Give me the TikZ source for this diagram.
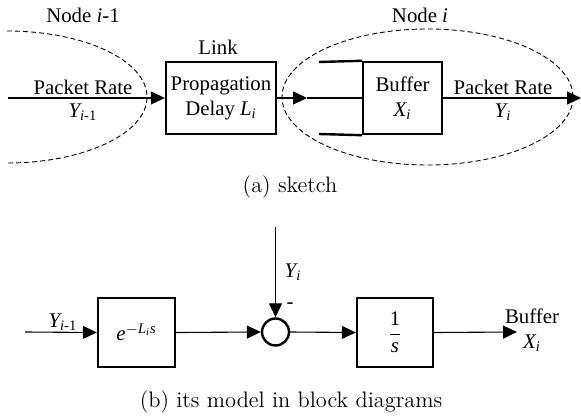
\documentclass[tikz,border=0pt]{standalone}
\usepackage{fontspec}
\usepackage{amsmath}
\usetikzlibrary{arrows.meta}
\newfontfamily\tms{Liberation Serif}
% italic letters in the diagram font
\newcommand{\iv}[1]{\text{\itshape #1}}

\begin{document}
\begin{tikzpicture}[>={Triangle[length=7pt,width=6.5pt]}, x=0.5pt, y=-0.5pt,
  every node/.style={font=\tms\fontsize{10.4}{12.5}\selectfont},
  blk/.style={draw, line width=1.2pt, inner sep=0pt, align=center},
  wire/.style={line width=0.55pt},
  zone/.style={dash pattern=on 2.5pt off 1.5pt, line width=0.45pt},
  capt/.style={font=\rmfamily\fontsize{11.2}{13}\selectfont}]
\useasboundingbox (0,0) rectangle (581,416);

% (a) the sketch
\draw[zone] (7,31) arc[start angle=90, end angle=-90, x radius=70pt, y radius=33pt];
\draw[zone] (427.5,97) ellipse[x radius=72.75pt, y radius=34pt];
\node (nodeA) at (83,15) {Node \textit{i}-1};
\node (nodeB) at (420,15) {Node \textit{i}};

\node[blk, minimum width=55pt, minimum height=36pt] (prop) at (221,98) {Propagation\\Delay $\iv{L}_{\iv{i}}$};
\node (link) at (218,47) {Link};
\node[blk, minimum width=39.5pt, minimum height=36pt] (buf) at (402.5,98) {Buffer\\$\iv{X}_{\iv{i}}$};
\coordinate (bt) at (319,62);
\coordinate (bb) at (319,134);
\draw[blk] (bt) -- (buf.north west);
\draw[blk] (bb) -- (buf.south west);

\coordinate (in1) at (8,98);
\coordinate (mid1) at (307,98);
\coordinate (out1) at (581,98);
\draw[wire,->] (in1) -- (prop.west);
\draw[wire,->] (prop.east) -- (mid1);
\draw[wire] (mid1) -- (buf.west);
\draw[wire,->] (buf.east) -- (out1);

\node (rateA) at (83,87) {Packet Rate};
\node (yA) at (83,112) {$\iv{Y}_{\iv{i}\text{-1}}$};
\node (rateB) at (503,87) {Packet Rate};
\node (yB) at (503,112) {$\iv{Y}_{\iv{i}}$};

\node[capt] (capA) at (290,187) {(a) sketch};

% (b) block diagram
\node[blk, minimum width=38.5pt, minimum height=34.5pt] (delay) at (136.5,332.5) {$\iv{e}^{-\iv{L}_{\iv{i}}\iv{s}}$};
\node[draw, line width=1.2pt, circle, minimum size=13.5pt, inner sep=0pt] (sum) at (275.5,332) {};
\node[blk, minimum width=38pt, minimum height=34.5pt] (integ) at (395,332.5) {$\dfrac{\text{1}}{\iv{s}}$};

\coordinate (in2) at (25,332);
\coordinate (top2) at (275.5,227);
\coordinate (out2) at (517,332);
\draw[wire,->] (in2) -- (delay.west);
\draw[wire,->] (delay.east) -- (sum.west);
\draw[wire,->] (top2) -- (sum.north);
\draw[wire,->] (sum.east) -- (integ.west);
\draw[wire,->] (integ.east) -- (out2);

\node (yC) at (63,322) {$\iv{Y}_{\iv{i}\text{-1}}$};
\node (yD) at (293,272) {$\iv{Y}_{\iv{i}}$};
\node (minus) at (290,306) {-};
\node[align=center] (bufout) at (532,330) {Buffer\\$\iv{X}_{\iv{i}}$};

\node[capt] (capB) at (291,402) {(b) its model in block diagrams};
\end{tikzpicture}
\end{document}
